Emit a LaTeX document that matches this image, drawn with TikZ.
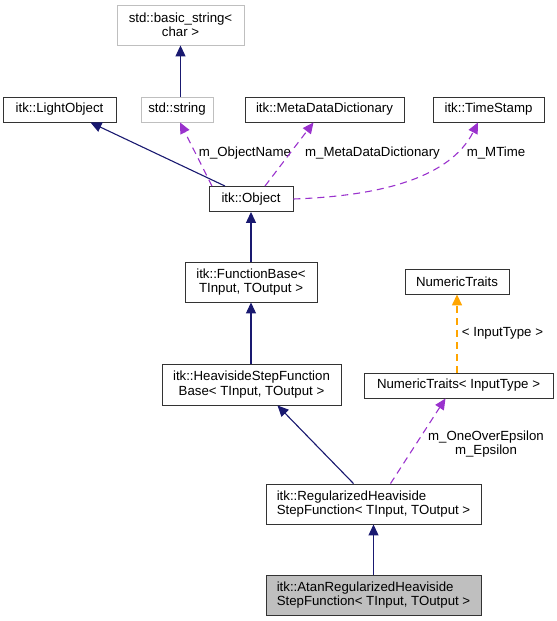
\documentclass[tikz,border=0pt]{standalone}
\usepackage{fontspec}
\setmainfont{Liberation Sans}
\usetikzlibrary{arrows.meta}
\definecolor{inhcol}{HTML}{191970}
\definecolor{usecol}{HTML}{9A32CD}
\definecolor{tplcol}{HTML}{FFA500}
\definecolor{greybox}{HTML}{BFBFBF}
\tikzset{
  cls/.style={draw=black!80, fill=white, line width=0.9pt, inner sep=0pt,
    align=center, font=\fontsize{13.3}{14.5}\selectfont},
  extcls/.style={cls, draw=black!25},
  lbl/.style={inner sep=0pt, align=center, font=\fontsize{13.3}{14.5}\selectfont},
  inh/.style={draw=inhcol, line width=1.1bp, -{Triangle[length=11bp,width=10bp]}},
  use/.style={draw=usecol, line width=1.1bp, dash pattern=on 7bp off 5bp,
    -{Triangle[length=11bp,width=10bp]}},
  tpl/.style={draw=tplcol, line width=1.5bp, dash pattern=on 7bp off 5bp,
    -{Triangle[length=11bp,width=10bp]}}
}
\begin{document}
\begin{tikzpicture}[x=1bp, y=-1bp]
  \useasboundingbox (0,0) rectangle (557,621);

  % classes
  \node[extcls, minimum width=127bp, minimum height=40bp] (basicstr) at (180.5,25) {std::basic\_string<\\ char >};
  \node[cls, minimum width=113bp, minimum height=25bp] (lightobj) at (59.5,109.5) {itk::LightObject};
  \node[extcls, minimum width=72bp, minimum height=25bp] (stdstr) at (177,109.5) {std::string};
  \node[cls, minimum width=159bp, minimum height=25bp] (metadict) at (324.5,109.5) {itk::MetaDataDictionary};
  \node[cls, minimum width=111bp, minimum height=25bp] (timestamp) at (488.5,109.5) {itk::TimeStamp};
  \node[cls, minimum width=84bp, minimum height=25bp] (object) at (251,199) {itk::Object};
  \node[cls, minimum width=132bp, minimum height=40bp] (funcbase) at (251,282) {itk::FunctionBase<\\ TInput, TOutput >};
  \node[cls, minimum width=104bp, minimum height=25bp] (numtraits) at (457,281.5) {NumericTraits};
  \node[cls, minimum width=189bp, minimum height=25bp] (numtraitsin) at (458.5,385.5) {NumericTraits< InputType >};
  \node[cls, minimum width=179bp, minimum height=41bp] (heavibase) at (251.5,384.5) {itk::HeavisideStepFunction\\Base< TInput, TOutput >};
  \node[cls, align=left, minimum width=215bp, minimum height=40bp] (regheavi) at (373.5,504) {itk::RegularizedHeaviside\\StepFunction< TInput, TOutput >};
  \node[cls, align=left, fill=greybox, minimum width=215bp, minimum height=40bp] (atanheavi) at (373.5,595) {itk::AtanRegularizedHeaviside\\StepFunction< TInput, TOutput >};

  % member labels
  \node[lbl] (lblname) at (245,153) {m\_ObjectName};
  \node[lbl] (lbldict) at (372.5,153) {m\_MetaDataDictionary};
  \node[lbl] (lbltime) at (496,153) {m\_MTime};
  \node[lbl] (lbltpl) at (502.5,333) {< InputType >};
  \node[lbl] (lbleps) at (486,444) {m\_OneOverEpsilon\\m\_Epsilon};

  % inheritance
  \draw[inh] (stdstr.north -| basicstr) -- (basicstr.south);
  \draw[inh] ([xshift=-26bp]object.north) -- ([xshift=31bp]lightobj.south);
  \draw[inh] (funcbase.north) -- (object.south);
  \draw[inh] (heavibase.north -| funcbase) -- (funcbase.south);
  \draw[inh] ([xshift=-20bp]regheavi.north) -- ([xshift=26bp]heavibase.south);
  \draw[inh] (atanheavi.north) -- (regheavi.south);

  % usage
  \draw[use] ([xshift=-39bp]object.north) -- ([xshift=3bp]stdstr.south);
  \draw[use] ([xshift=14bp]object.north) -- ([xshift=-11bp]metadict.south);
  \draw[use] (object.east) .. controls (380,196) and (450,178) .. ([xshift=-10.5bp]timestamp.south);
  \draw[use] ([xshift=17bp]regheavi.north) -- ([xshift=-13bp]numtraitsin.south);

  % template
  \draw[tpl] (numtraitsin.north -| numtraits) -- (numtraits.south);
\end{tikzpicture}
\end{document}
